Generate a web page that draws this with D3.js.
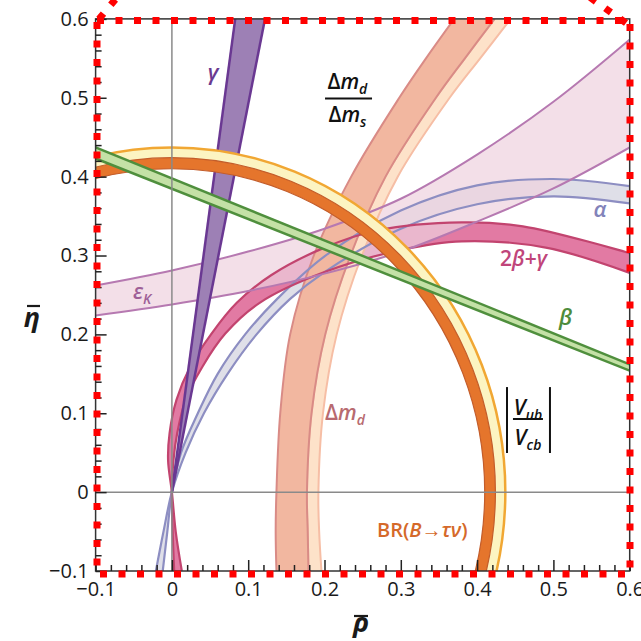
<!DOCTYPE html>
<html>
<head>
<meta charset="utf-8">
<script src="https://cdn.jsdelivr.net/npm/d3@7"></script>
<style>
  body { margin: 0; background: #fff; }
  svg { display: block; }
  text { font-family: "Open Sans", "Noto Sans", sans-serif; }
</style>
</head>
<body>
<svg id="chart" width="641" height="641"></svg>
<script>
// ---- axis ticks --------------------------------------------------------
const rhoTicks = [-0.1, 0, 0.1, 0.2, 0.3, 0.4, 0.5, 0.6];
const rhoTickLabels = ["\u22120.1", "0", "0.1", "0.2", "0.3", "0.4", "0.5", "0.6"];
const etaTicks = [-0.1, 0, 0.1, 0.2, 0.3, 0.4, 0.5, 0.6];
const etaTickLabels = ["\u22120.1", "0", "0.1", "0.2", "0.3", "0.4", "0.5", "0.6"];

// ---- constraint bands: edges as [rhoBar, etaBar] pairs ------------------
// gamma: wedge from the origin
const gammaLeft  = [[0, 0], [0.083, 0.6]];
const gammaRight = [[0, 0], [0.122, 0.6]];

// beta: wedge from (1, 0)
const betaUpper = [[-0.1, 0.437], [0.6, 0.162]];
const betaLower = [[-0.1, 0.423], [0.6, 0.154]];

// epsilon_K
const epsKUpper = [[-0.1, 0.262], [0, 0.281], [0.1, 0.305], [0.2, 0.334], [0.3, 0.372],
                   [0.4, 0.428], [0.5, 0.495], [0.6, 0.574]];
const epsKLower = [[-0.1, 0.224], [0, 0.238], [0.1, 0.255], [0.2, 0.277], [0.3, 0.305],
                   [0.4, 0.343], [0.5, 0.385], [0.6, 0.437]];

// alpha
const alphaUpper = [[-0.012, -0.1], [-0.006, -0.05], [0, 0], [0.012, 0.05], [0.034, 0.1],
                    [0.06, 0.15], [0.096, 0.2], [0.138, 0.245], [0.2, 0.299], [0.3, 0.357],
                    [0.4, 0.389], [0.5, 0.397], [0.6, 0.388]];
const alphaLower = [[-0.021, -0.1], [-0.011, -0.05], [0, 0], [0.018, 0.05], [0.042, 0.1],
                    [0.073, 0.15], [0.111, 0.2], [0.155, 0.245], [0.2, 0.279], [0.3, 0.334],
                    [0.4, 0.365], [0.5, 0.375], [0.6, 0.366]];

// 2beta + gamma
const tbgOuter = [[0.013, -0.1], [0.005, -0.05], [0, 0], [-0.005, 0.04], [-0.003, 0.075],
                  [0.006, 0.117], [0.024, 0.159], [0.052, 0.201], [0.085, 0.24], [0.13, 0.275],
                  [0.2, 0.31], [0.27, 0.332], [0.38, 0.342], [0.46, 0.337], [0.6, 0.303]];
const tbgInner = [[0.003, -0.1], [0.001, -0.05], [0, 0], [0.002, 0.04], [0.007, 0.075],
                  [0.018, 0.117], [0.04, 0.159], [0.07, 0.201], [0.115, 0.24], [0.2, 0.279],
                  [0.3, 0.307], [0.38, 0.318], [0.49, 0.31], [0.6, 0.278]];

// Delta m_d and Delta m_d / Delta m_s: rhoBar of each edge at these etaBar values
const dmEta     = [-0.1, -0.05, 0, 0.1, 0.2, 0.3, 0.4, 0.5, 0.55, 0.6];
const dmdOuter  = [0.137, 0.136, 0.137, 0.142, 0.155, 0.186, 0.235, 0.298, 0.333, 0.37];
const dmdInner  = [0.179, 0.178, 0.177, 0.183, 0.201, 0.234, 0.28, 0.346, 0.384, 0.423];
const dmsInner  = [0.196, 0.193, 0.192, 0.198, 0.216, 0.249, 0.296, 0.364, 0.404, 0.444];

// rings about the origin: [inner radius, outer radius]
const vubRing   = [0.414, 0.437];
const tauNuRing = [0.41, 0.424];

// ---- layout --------------------------------------------------------------
const svg = d3.select("#chart");
const x = d3.scaleLinear().domain([-0.1, 0.6]).range([95.6, 629.7]);
const y = d3.scaleLinear().domain([-0.1, 0.6]).range([571, 18.9]);
const X0 = x.range()[0], X1 = x.range()[1], Y0 = y.range()[1], Y1 = y.range()[0];

svg.append("defs").append("clipPath").attr("id", "plotClip")
  .append("rect").attr("x", X0).attr("y", Y0).attr("width", X1 - X0).attr("height", Y1 - Y0);

const plot = svg.append("g").attr("clip-path", "url(#plotClip)");

const edge = d3.line().x(d => x(d[0])).y(d => y(d[1])).curve(d3.curveCatmullRom.alpha(0.5));
const band = (a, b) => edge(a) + "L" + edge(b.slice().reverse()).slice(1) + "Z";
const zipEta = rhos => dmEta.map((e, i) => [rhos[i], e]);

function drawFill(a, b, fill, opacity) {
  plot.append("path").attr("d", band(a, b)).attr("fill", fill).attr("fill-opacity", opacity || 1);
}
function drawEdges(a, b, stroke, w) {
  [a, b].forEach(e => plot.append("path").attr("d", edge(e)).attr("fill", "none")
    .attr("stroke", stroke).attr("stroke-width", w));
}

// fills of the wide translucent bands
drawFill(alphaUpper, alphaLower, "#dcdbe6", 0.9);
drawFill(tbgOuter, tbgInner, "#e27aa3", 1);
drawFill(epsKUpper, epsKLower, "#eed2de", 0.7);

// Delta m_d / Delta m_s and Delta m_d
drawFill(zipEta(dmdInner), zipEta(dmsInner), "#fde2c9");
drawEdges(zipEta(dmdInner), zipEta(dmsInner), "#f6bea5", 2);
drawFill(zipEta(dmdOuter), zipEta(dmdInner), "#f2b7a0");
drawEdges(zipEta(dmdOuter), zipEta(dmdInner), "#d98b86", 2);

// edges of the translucent bands
drawEdges(alphaUpper, alphaLower, "#8d8ec2", 2.2);
drawEdges(tbgOuter, tbgInner, "#c2446f", 2.2);
drawEdges(epsKUpper, epsKLower, "#b679b1", 2);

// gamma
drawFill(gammaLeft, gammaRight, "#9d80b5");
drawEdges(gammaLeft, gammaRight, "#6a3892", 2.5);

// |Vub/Vcb| and BR(B -> tau nu) rings, with the y/x aspect of the scales
const aspect = (y(0) - y(1)) / (x(1) - x(0));
const ringArc = d3.arc().startAngle(0).endAngle(2 * Math.PI);
const rings = plot.append("g")
  .attr("transform", `translate(${x(0)},${y(0)}) scale(1,${aspect})`);
rings.append("path")
  .attr("d", ringArc({innerRadius: x(vubRing[0]) - x(0), outerRadius: x(vubRing[1]) - x(0)}))
  .attr("fill", "#fcf4c2").attr("stroke", "#f1a733").attr("stroke-width", 2.5)
  .attr("vector-effect", "non-scaling-stroke");
rings.append("path")
  .attr("d", ringArc({innerRadius: x(tauNuRing[0]) - x(0), outerRadius: x(tauNuRing[1]) - x(0)}))
  .attr("fill", "#e5752c").attr("stroke", "#c35d2b").attr("stroke-width", 1.2)
  .attr("vector-effect", "non-scaling-stroke");

// beta
drawFill(betaUpper, betaLower, "#c4e1a6");
drawEdges(betaUpper, betaLower, "#4f8f3d", 2.5);

// zero lines
plot.append("line").attr("x1", x(0)).attr("x2", x(0)).attr("y1", Y0).attr("y2", Y1)
  .attr("stroke", "#8a8a8a").attr("stroke-width", 1.5);
plot.append("line").attr("x1", X0).attr("x2", X1).attr("y1", y(0)).attr("y2", y(0))
  .attr("stroke", "#8a8a8a").attr("stroke-width", 1.5);

// ---- frame and axes ------------------------------------------------------
svg.append("rect").attr("x", X0).attr("y", Y0).attr("width", X1 - X0).attr("height", Y1 - Y0)
  .attr("fill", "none").attr("stroke", "#333").attr("stroke-width", 1.5);

const minor = d3.range(-0.1, 0.6001, 0.02).filter(v => Math.abs(v * 10 - Math.round(v * 10)) > 1e-6);

const xAxis = svg.append("g").attr("transform", `translate(0,${Y1})`)
  .call(d3.axisBottom(x).tickValues(rhoTicks).tickSize(-11).tickPadding(7)
    .tickFormat((d, i) => rhoTickLabels[i]));
svg.append("g").attr("transform", `translate(0,${Y1})`)
  .call(d3.axisBottom(x).tickValues(minor).tickSize(-6).tickFormat(""));
const yAxis = svg.append("g").attr("transform", `translate(${X0},0)`)
  .call(d3.axisLeft(y).tickValues(etaTicks).tickSize(-11).tickPadding(7)
    .tickFormat((d, i) => etaTickLabels[i]));
svg.append("g").attr("transform", `translate(${X0},0)`)
  .call(d3.axisLeft(y).tickValues(minor).tickSize(-6).tickFormat(""));

svg.selectAll(".domain").remove();
svg.selectAll(".tick line").attr("stroke", "#222").attr("stroke-width", 1.5);
svg.selectAll(".tick text").attr("fill", "#1a1a1a").style("font-size", "20px")
  .style("font-family", "'Open Sans', sans-serif");
xAxis.selectAll(".tick text").attr("dy", "0.9em");

// axis titles
svg.append("text").attr("x", 32).attr("y", 327).attr("text-anchor", "middle")
  .style("font-size", "27px").style("font-weight", 700).style("font-style", "italic")
  .attr("fill", "#1a1a1a").text("\u03B7");
svg.append("line").attr("x1", 27).attr("x2", 40).attr("y1", 306).attr("y2", 306)
  .attr("stroke", "#1a1a1a").attr("stroke-width", 2.2);
svg.append("text").attr("x", 361).attr("y", 632).attr("text-anchor", "middle")
  .style("font-size", "27px").style("font-weight", 700).style("font-style", "italic")
  .attr("fill", "#1a1a1a").text("\u03C1");
svg.append("line").attr("x1", 354).attr("x2", 368).attr("y1", 616).attr("y2", 616)
  .attr("stroke", "#1a1a1a").attr("stroke-width", 2.2);

// ---- band labels ---------------------------------------------------------
function label(rho, eta, color, anchor, parts, size) {
  const t = svg.append("text").attr("x", x(rho)).attr("y", y(eta))
    .attr("text-anchor", anchor).attr("fill", color)
    .style("font-size", (size || 21) + "px").style("font-weight", 600);
  parts.forEach(p => {
    const s = t.append("tspan").text(p.t);
    if (p.i) s.style("font-style", "italic");
    if (p.sub) s.attr("dy", 5).style("font-size", "14px");
    if (p.up) s.attr("dy", -5);
  });
  return t;
}

label(0.054, 0.523, "#6b3a90", "middle", [{t: "\u03B3", i: 1}], 22);
label(0.561, 0.349, "#8283ba", "middle", [{t: "\u03B1", i: 1}], 22);
label(0.4608, 0.2867, "#c0457a", "middle",
  [{t: "2"}, {t: "\u03B2", i: 1}, {t: "+"}, {t: "\u03B3", i: 1}], 21);
label(0.5159, 0.2118, "#4e8c3c", "middle", [{t: "\u03B2", i: 1}], 22);
label(-0.051, 0.2448, "#9e5f97", "start", [{t: "\u03B5", i: 1}, {t: "K", i: 1, sub: 1}], 21);
label(0.2007, 0.0914, "#b86a70", "start", [{t: "\u0394"}, {t: "m", i: 1}, {t: "d", i: 1, sub: 1}], 21);
label(0.2688, -0.057, "#d5692a", "start",
  [{t: "BR("}, {t: "B", i: 1}, {t: "\u2192"}, {t: "\u03C4\u03BD", i: 1}, {t: ")"}], 20);

// Delta m_d / Delta m_s fraction
label(0.230, 0.511, "#111", "middle", [{t: "\u0394"}, {t: "m", i: 1}, {t: "d", i: 1, sub: 1}], 21);
svg.append("line").attr("x1", x(0.2007)).attr("x2", x(0.2623)).attr("y1", y(0.499)).attr("y2", y(0.499))
  .attr("stroke", "#111").attr("stroke-width", 2);
label(0.230, 0.469, "#111", "middle", [{t: "\u0394"}, {t: "m", i: 1}, {t: "s", i: 1, sub: 1}], 21);

// |Vub / Vcb|
label(0.4667, 0.0978, "#111", "middle", [{t: "V", i: 1}, {t: "ub", i: 1, sub: 1}], 21);
svg.append("line").attr("x1", x(0.447)).attr("x2", x(0.4863)).attr("y1", y(0.0927)).attr("y2", y(0.0927))
  .attr("stroke", "#111").attr("stroke-width", 2);
label(0.4667, 0.0597, "#111", "middle", [{t: "V", i: 1}, {t: "cb", i: 1, sub: 1}], 21);
[0.4392, 0.4955].forEach(r => svg.append("line")
  .attr("x1", x(r)).attr("x2", x(r)).attr("y1", y(0.1332)).attr("y2", y(0.0496))
  .attr("stroke", "#111").attr("stroke-width", 2));

// ---- dotted highlight outline --------------------------------------------
const hl = d3.path();
hl.moveTo(97, 20.5); hl.lineTo(630, 20.5); hl.lineTo(630, 574); hl.lineTo(97, 574); hl.closePath();
hl.moveTo(99, 19); hl.lineTo(119, -5);
hl.moveTo(626, 23); hl.lineTo(588, -4);
svg.append("path").attr("d", hl.toString()).attr("fill", "none")
  .attr("stroke", "#ff0000").attr("stroke-width", 7).attr("stroke-dasharray", "7 11.5");
</script>
</body>
</html>
